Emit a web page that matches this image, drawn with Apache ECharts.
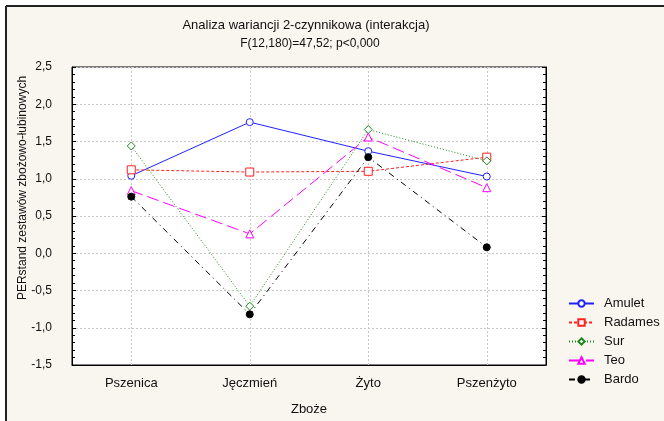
<!DOCTYPE html>
<html>
<head>
<meta charset="utf-8">
<script src="https://cdn.jsdelivr.net/npm/echarts@6/dist/echarts.min.js"></script>
<style>
html,body{margin:0;padding:0;background:#fff;}
#c{width:664px;height:421px;}
</style>
</head>
<body>
<div id="c"></div>
<script>
const categories = ['Pszenica', 'Jęczmień', 'Żyto', 'Pszenżyto'];
const amulet  = [1.04, 1.76, 1.37, 1.03];
const radames = [1.12, 1.09, 1.10, 1.29];
const sur     = [1.44, -0.71, 1.66, 1.24];
const teo     = [0.84, 0.26, 1.56, 0.88];
const bardo   = [0.76, -0.82, 1.29, 0.08];
const seriesNames = ['Amulet', 'Radames', 'Sur', 'Teo', 'Bardo'];
const yTicks = [-1.5, -1.0, -0.5, 0.0, 0.5, 1.0, 1.5, 2.0, 2.5];
const titleText = 'Analiza wariancji 2-czynnikowa (interakcja)';
const subtitleText = 'F(12,180)=47,52; p<0,000';
const xName = 'Zboże';
const yName = 'PERstand zestawów zbożowo-łubinowych';

const FONT = 'Liberation Sans, Arial, sans-serif';
const chart = echarts.init(document.getElementById('c'), null, {renderer: 'canvas'});

function mk(name, data, color, symbol, dash, filled, size) {
  return {
    name: name, type: 'line', data: data,
    xAxisIndex: 0, yAxisIndex: 0,
    symbol: symbol, symbolSize: size,
    showAllSymbol: true,
    lineStyle: {color: color, width: 1, type: dash},
    itemStyle: {color: filled ? color : '#ffffff', borderColor: color, borderWidth: 1},
    emphasis: {disabled: true},
    animation: false
  };
}

const fmt = v => v.toFixed(1).replace('.', ',');
// half-band guide categories so vertical grid lines fall on category centres
const halfBands = [];
categories.forEach(c => { halfBands.push(c + ' a'); halfBands.push(c + ' b'); });

const option = {
  backgroundColor: '#ffffff',
  animation: false,
  graphic: [
    {type: 'rect', shape: {x: 6, y: 7, width: 664, height: 421}, style: {fill: '#f9f5ef'}, z: -10, silent: true},
    {type: 'line', shape: {x1: 6, y1: 6, x2: 664, y2: 6}, style: {stroke: '#222', lineWidth: 2}, z: -9},
    {type: 'line', shape: {x1: 6, y1: 6, x2: 6, y2: 421}, style: {stroke: '#222', lineWidth: 2}, z: -9},
    {type: 'text', x: 306, y: 25, style: {text: titleText, font: '13px ' + FONT, fill: '#111', align: 'center', verticalAlign: 'middle'}},
    {type: 'text', x: 310, y: 44, style: {text: subtitleText, font: '12px ' + FONT, fill: '#111', align: 'center', verticalAlign: 'middle'}},
    {type: 'text', x: 23, y: 188, rotation: Math.PI / 2, style: {text: yName, font: '12px ' + FONT, fill: '#111', align: 'center', verticalAlign: 'middle'}}
  ],
  grid: {left: 72, right: 118, top: 67, bottom: 52, show: true, backgroundColor: '#ffffff', borderColor: '#000', borderWidth: 1, z: 0},
  legend: {
    orient: 'vertical', left: 563, top: 292,
    itemWidth: 25, itemHeight: 8, itemGap: 6,
    textStyle: {fontFamily: FONT, fontSize: 13, color: '#111', padding: [0, 0, 0, 5]},
    data: seriesNames
  },
  xAxis: [
    {
      type: 'category', data: categories, boundaryGap: true,
      name: xName, nameLocation: 'middle', nameGap: 38,
      nameTextStyle: {fontFamily: FONT, fontSize: 13, color: '#111'},
      axisLine: {onZero: false, lineStyle: {color: '#000', width: 1}},
      axisTick: {show: false},
      axisLabel: {fontFamily: FONT, fontSize: 13, color: '#111', margin: 12},
      splitLine: {show: false}
    },
    {
      type: 'category', data: halfBands, boundaryGap: true, position: 'bottom',
      axisLine: {show: false}, axisTick: {show: false}, axisLabel: {show: false},
      splitLine: {show: true, interval: (i) => i % 2 === 1, lineStyle: {color: '#c8c8c8', type: [2, 2], width: 1}}
    }
  ],
  yAxis: [
    {
      type: 'value', min: -1.5, max: 2.5, interval: 0.5,
      axisLine: {show: true, onZero: false, lineStyle: {color: '#000'}},
      axisTick: {show: true, inside: true, length: 4, lineStyle: {color: '#000'}},
      minorTick: {show: true, splitNumber: 5, length: 3, lineStyle: {color: '#000'}},
      axisLabel: {fontFamily: FONT, fontSize: 12, color: '#111', margin: 20, formatter: fmt},
      splitLine: {show: true, lineStyle: {color: '#c8c8c8', type: [2, 2], width: 1}}
    },
    {
      type: 'value', position: 'right', min: -1.5, max: 2.5, interval: 0.5,
      axisLine: {show: true, onZero: false, lineStyle: {color: '#000'}},
      axisTick: {show: true, inside: true, length: 4, lineStyle: {color: '#000'}},
      minorTick: {show: true, splitNumber: 5, length: 3, lineStyle: {color: '#000'}},
      axisLabel: {show: false},
      splitLine: {show: false}
    }
  ],
  series: [
    mk(seriesNames[0], amulet, '#2020ff', 'circle', 'solid', false, 7),
    mk(seriesNames[1], radames, '#ff2020', 'rect', [3, 2], false, 8),
    mk(seriesNames[2], sur, '#1f8a1f', 'diamond', [1, 2], false, 8),
    mk(seriesNames[3], teo, '#ff00ff', 'triangle', [12, 5], false, 8),
    mk(seriesNames[4], bardo, '#000000', 'circle', [6, 4, 1, 4], true, 7)
  ]
};
chart.setOption(option);
</script>
</body>
</html>
